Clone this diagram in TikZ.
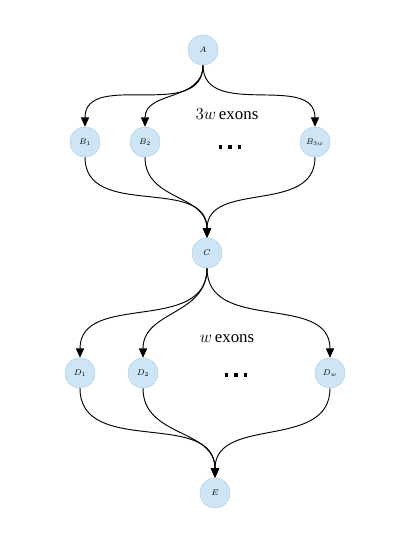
\documentclass[tikz,border=0pt]{standalone}
\usepackage{fontspec}
\setmainfont{Liberation Serif}
\usepackage{tikz}
\usepackage{xcolor}
\usetikzlibrary{arrows.meta, positioning}
\definecolor{exonfill}{RGB}{205,229,244}
\definecolor{exonline}{RGB}{175,205,228}
\tikzstyle{exon} = [circle, 
minimum size=0.9cm, inner sep=0pt, 
fill=exonfill, draw=exonline, 
font=\scriptsize]
\tikzstyle{arrow} = [thick, black, -{Triangle[length=8pt,width=7pt]}]
\tikzstyle{note} = [font=\Large]
\newcommand{\sqdots}{\rule{3pt}{3pt}\hspace{5pt}\rule{3pt}{3pt}\hspace{5pt}\rule{3pt}{3pt}}

\begin{document}
\begin{tikzpicture}[x=0.03cm, y=-0.03cm]
        \useasboundingbox (0,0) rectangle (415,537);
        % first block
        \node[exon] (A) at (203,50) {$A$};
        \node[exon] (B1) at (85,142) {$B_1$};
        \node[exon] (B2) at (145,142) {$B_2$};
        \node[exon] (Bw) at (315,142) {$B_{3w}$};
        \node[exon] (C) at (207,253) {$C$};
        \node[note] (lblB) at (227,114) {$3w$\,exons};
        \node (dotsB) at (230,147) {\sqdots};
        \foreach \b in {B1, B2, Bw} {
            \draw[arrow] (A.south) to[out=-90, in=90, looseness=1.1] (\b.north);
            \draw[arrow] (\b.south) to[out=-90, in=90, looseness=1.1] (C.north);
        }
        % second block
        \node[exon] (D1) at (80,373) {$D_1$};
        \node[exon] (D2) at (143,373) {$D_2$};
        \node[exon] (Dw) at (330,373) {$D_w$};
        \node[exon] (E) at (215,493) {$E$};
        \node[note] (lblD) at (227,339) {$w$\,exons};
        \node (dotsD) at (236,375) {\sqdots};
        \foreach \d in {D1, D2, Dw} {
            \draw[arrow] (C.south) to[out=-90, in=90, looseness=1.1] (\d.north);
            \draw[arrow] (\d.south) to[out=-90, in=90, looseness=1.1] (E.north);
        }
    \end{tikzpicture}
\end{document}
